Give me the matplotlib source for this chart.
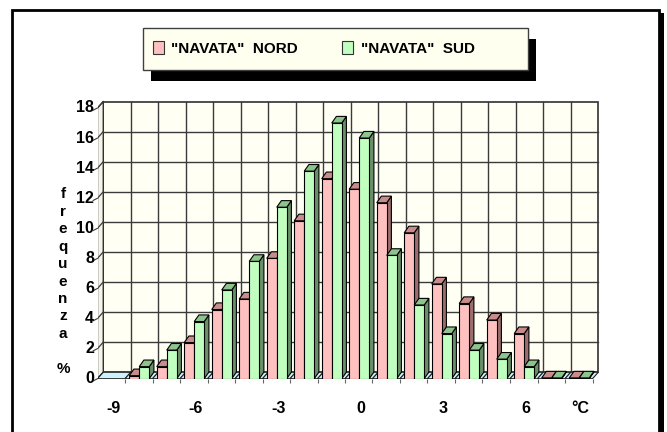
import matplotlib.pyplot as plt
from matplotlib.patches import Polygon, Rectangle

# data
temps = list(range(-9, 9))
nord = [0, 0.2, 0.8, 2.4, 4.6, 5.3, 8.0, 10.5, 13.3, 12.6, 11.7, 9.7, 6.3, 5.0, 3.9, 3.0, 0.05, 0.05]
sud = [0, 0.8, 1.9, 3.8, 5.9, 7.8, 11.4, 13.8, 17.0, 16.0, 8.2, 4.9, 3.0, 1.9, 1.3, 0.8, 0.05, 0.05]
xlabels = {-9: '-9', -6: '-6', -3: '-3', 0: '0', 3: '3', 6: '6', 8: '°C'}
yticks = list(range(0, 20, 2))
series_names = ['"NAVATA"  NORD', '"NAVATA"  SUD']

W, H = 667, 432
FONT = ['Liberation Sans Narrow', 'Liberation Sans', 'DejaVu Sans']
plt.rcParams['font.family'] = FONT
plt.rcParams['font.weight'] = 'bold'

pink = ('#FFC0C0', '#C88C8C', '#9C6E6E')   # front, top, side
green = ('#C0FFC0', '#8CC48C', '#6A906A')

# depth of the walls and of the bars (data units)
wdx, wdy = 0.21, 0.43
bdx, bdy = 0.17, 0.44
ncat = len(temps)

fig = plt.figure(figsize=(W / 100, H / 100), dpi=100)


def fx(px):
    return px / W


def fy(py):
    return 1 - py / H


# front plane: category 0 left edge at x=97.5px, value 0 at y=378.7px
x0, y0, sx, sy = 97.5, 378.7, 27.5, 15.04
xmax, ymax = 18.35, 18.7
ax = fig.add_axes([fx(x0), fy(y0), xmax * sx / W, ymax * sy / H])
ax.set_xlim(0, xmax)
ax.set_ylim(0, ymax)
for s in ax.spines.values():
    s.set_visible(False)
ax.set_yticks([])
ax.set_xticks([])
ax.set_xticks(range(1, ncat + 1), minor=True)
ax.tick_params(which='minor', length=3, width=0.8, color='#666666', direction='out')
ax.xaxis.set_tick_params(which='minor', labelbottom=False)

top = yticks[-1]

# back wall
ax.add_patch(Rectangle((wdx, wdy), ncat, top, facecolor='#FFFFF4',
                       edgecolor='#303030', lw=1.2, zorder=1))
# left wall
ax.add_patch(Polygon([(0, 0), (wdx, wdy), (wdx, top + wdy), (0, top)],
                     closed=True, facecolor='#F4F4E8', edgecolor='#303030', lw=1, zorder=1))
# gridlines
for v in yticks[1:-1]:
    ax.plot([wdx, ncat + wdx], [v + wdy, v + wdy], color='#3a3a3a', lw=1, zorder=2)
for v in yticks:
    ax.plot([0, wdx], [v, v + wdy], color='#3a3a3a', lw=0.9, zorder=2)
    ax.plot([-0.16, 0], [v - 0.15, v], color='#3a3a3a', lw=0.8, zorder=2, clip_on=False)
    ax.text(-0.12, v, str(v), ha='right', va='center', fontsize=11.5, clip_on=False)
for i in range(1, ncat):
    ax.plot([i + wdx, i + wdx], [wdy, top + wdy], color='#3a3a3a', lw=1, zorder=2)

# floor, one tile per category
for i in range(ncat):
    ax.add_patch(Polygon([(i, 0), (i + 1, 0), (i + 1 + wdx, wdy), (i + wdx, wdy)],
                         closed=True, facecolor='#CCF2FF', edgecolor='#222222',
                         lw=0.8, zorder=3))


def bar3d(x, w, h, cols, z):
    front, topc, side = cols
    ax.add_patch(Polygon([(x + w, 0), (x + w + bdx, bdy), (x + w + bdx, h + bdy), (x + w, h)],
                         closed=True, facecolor=side, edgecolor='black', lw=0.8, zorder=z))
    ax.add_patch(Polygon([(x, h), (x + w, h), (x + w + bdx, h + bdy), (x + bdx, h + bdy)],
                         closed=True, facecolor=topc, edgecolor='black', lw=0.8, zorder=z))
    ax.add_patch(Rectangle((x, 0), w, h, facecolor=front, edgecolor='black', lw=0.8, zorder=z))


off, bw = 0.153, 0.364
for i in range(ncat):
    if nord[i] > 0:
        bar3d(i + off, bw, nord[i], pink, 4 + 2 * i)
    if sud[i] > 0:
        bar3d(i + off + bw, bw, sud[i], green, 5 + 2 * i)

# category labels
for i, t in enumerate(temps):
    if t in xlabels:
        ax.text(i + 0.57, -1.95, xlabels[t], ha='center', va='center', fontsize=11.5,
                clip_on=False)

# vertical axis title
fig.text(fx(63), fy(281.5), 'f\nr\ne\nq\nu\ne\nn\nz\na\n\n%', ha='center', va='center',
         fontsize=11, linespacing=1.31)

# legend box with shadow
fig.add_artist(Rectangle((fx(151), fy(81)), fx(385), 42 / H, transform=fig.transFigure,
                         facecolor='black', edgecolor='none'))
fig.add_artist(Rectangle((fx(143), fy(70)), fx(385), 42 / H, transform=fig.transFigure,
                         facecolor='#FFFFF0', edgecolor='#404040', lw=1))
for hx, tx, cols, name in [(153, 171.5, pink, series_names[0]), (342, 361, green, series_names[1])]:
    fig.add_artist(Rectangle((fx(hx), fy(54)), fx(11), 13 / H, transform=fig.transFigure,
                             facecolor=cols[0], edgecolor='#333333', lw=0.8))
    fig.text(fx(tx), fy(49), name, ha='left', va='center', fontsize=11)

# outer frame with right shadow
fig.add_artist(Rectangle((fx(659), fy(445)), fx(4.5), 432 / H, transform=fig.transFigure,
                         facecolor='black', edgecolor='none'))
fig.add_artist(Rectangle((fx(12), fy(445)), fx(647), 435 / H, transform=fig.transFigure,
                         facecolor='none', edgecolor='black', lw=2))

fig.savefig('out.png', dpi=100)
